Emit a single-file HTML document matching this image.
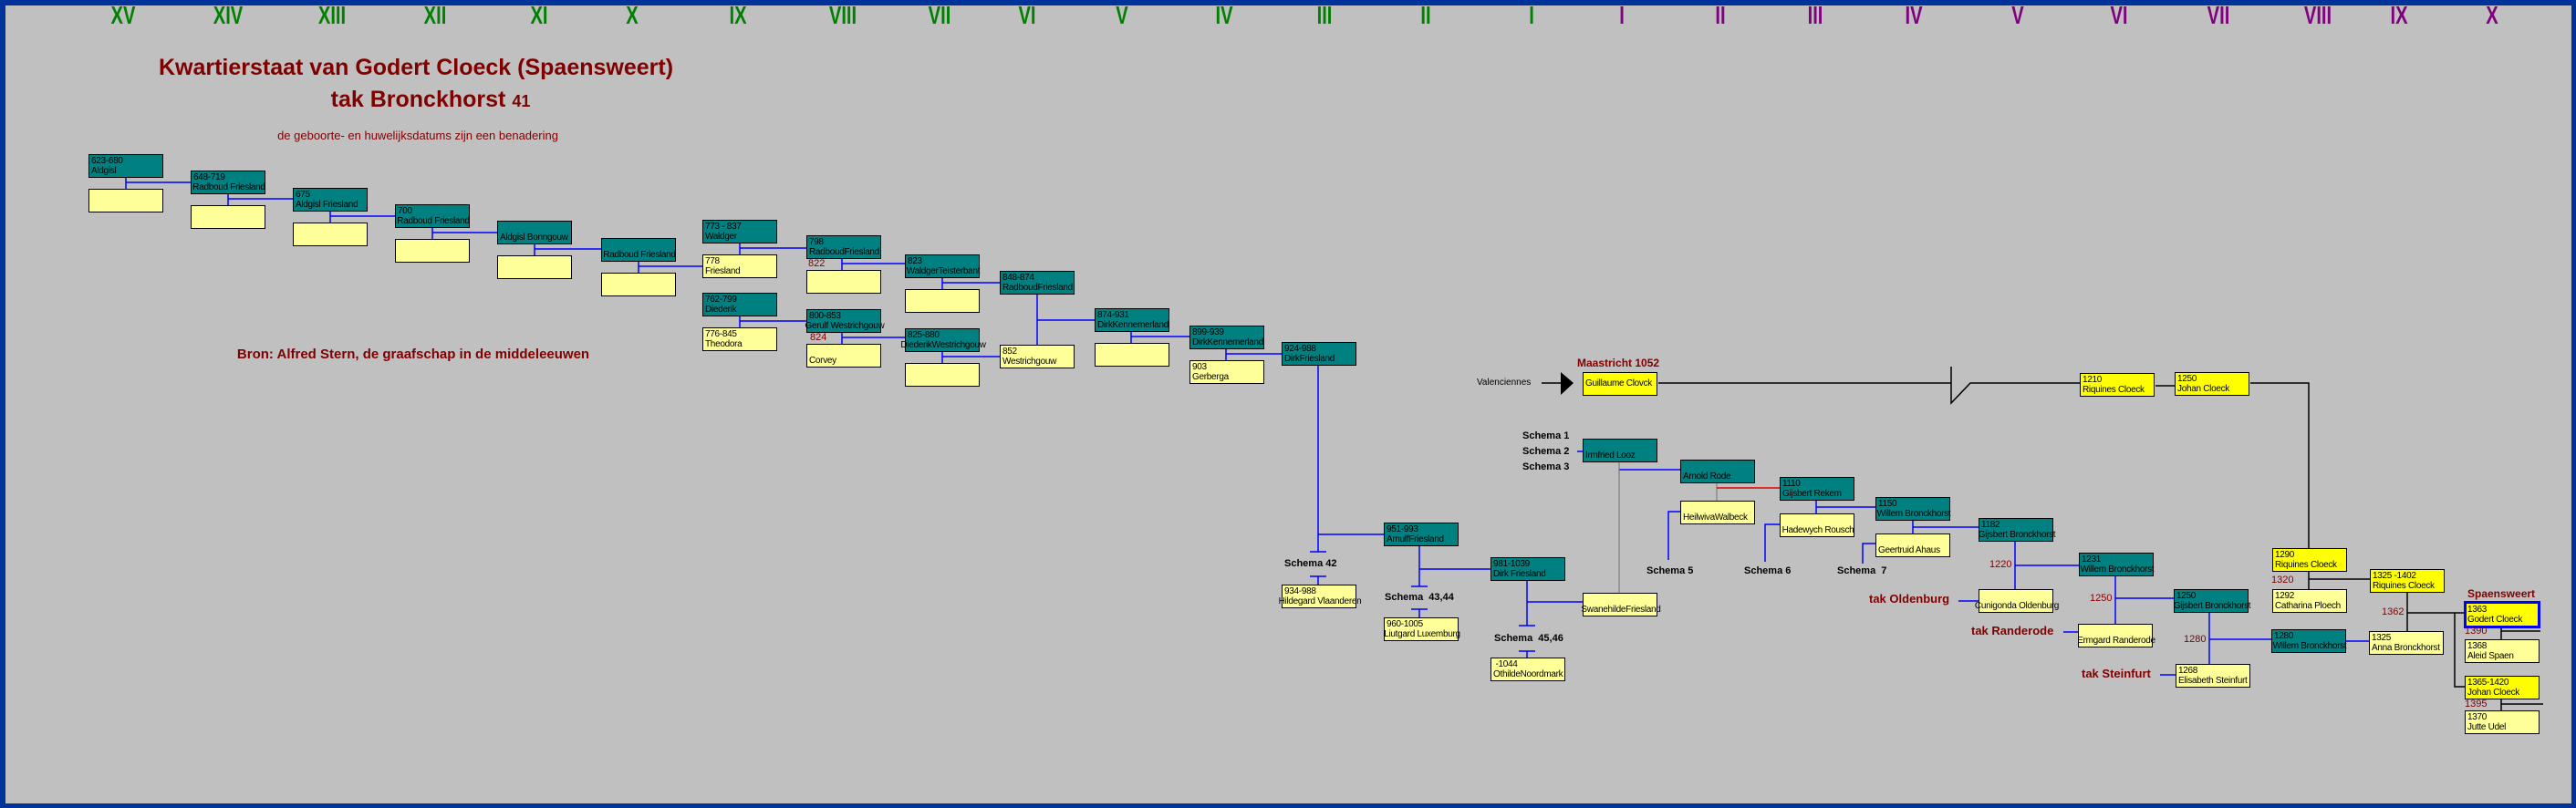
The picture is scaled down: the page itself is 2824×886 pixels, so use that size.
<!DOCTYPE html>
<html><head><meta charset="utf-8"><style>
html,body{margin:0;padding:0}
body{width:2824px;height:886px;position:relative;overflow:hidden;background:#003399;font-family:"Liberation Sans",sans-serif}
#bg{position:absolute;left:6px;top:6px;width:2813px;height:875px;background:#c0c0c0}
.r{position:absolute;top:3px;font-weight:bold;font-size:28px;line-height:28px;width:80px;margin-left:-40px;text-align:center;transform:scaleX(0.72)}
.g{color:#008000}.p{color:#800080}
.b{position:absolute;width:80px;height:23px;border:1px solid #000;font-size:10px;line-height:11px;color:#000;padding-top:1px;box-sizing:content-box}
.b p{margin:0;height:11px;white-space:nowrap;width:max-content;min-width:78px;position:relative;left:50%;transform:translateX(-50%);padding-left:2px;letter-spacing:-0.3px}
.t{background:#008080}.y{background:#ffff99}.Y{background:#ffff00}
.lab{position:absolute;white-space:nowrap}
.d{color:#800000;font-size:11px}
.s{font-weight:bold;font-size:11px;color:#000}
.rb{font-weight:bold;font-size:13px;color:#800000}
svg{position:absolute;left:0;top:0}
</style></head><body>
<div id="bg"></div>
<svg width="2824" height="886">
<g stroke="#0000ff" stroke-width="1.5" fill="none">
<path d="M138 194V207M138 200H209"/>
<path d="M250 212V225M250 218H321"/>
<path d="M362 231V244M362 237H433"/>
<path d="M474 249V262M474 255H545"/>
<path d="M586 267V280M586 273H659"/>
<path d="M700 286V299M700 292H770"/>
<path d="M811 266V279M811 272H884"/>
<path d="M811 346V359M811 352H884"/>
<path d="M923 283V296M923 289H992"/>
<path d="M923 364V377M923 370H992"/>
<path d="M1033 304V317M1033 310H1096"/>
<path d="M1033 385V398M1033 391H1096"/>
<path d="M1137 322V378M1137 351H1200"/>
<path d="M1240 363V376M1240 369H1304"/>
<path d="M1344 382V395M1344 388H1405"/>
<path d="M1445 400V605M1436 605H1454M1445 586H1517M1436 632H1454M1445 632V641"/>
<path d="M1556 598V643M1547 643H1565M1556 624H1634M1547 668H1565M1556 668V677"/>
<path d="M1674 636V686M1665 686H1683M1674 660H1735M1665 714H1683M1674 714V721"/>
<path d="M1775 515H1842M1729 495H1735"/>
<path d="M1829 614V561H1842"/>
<path d="M1991 548V563M1991 556H2056"/>
<path d="M1935 616V575H1951"/>
<path d="M2097 570V585M2097 578H2169"/>
<path d="M2042 618V596H2056"/>
<path d="M2209 593V646M2209 620H2279"/>
<path d="M2147 659H2169"/>
<path d="M2319 631V684M2319 656H2383"/>
<path d="M2262 693H2278"/>
<path d="M2422 671V728M2422 701H2490"/>
<path d="M2368 740H2385"/>
<path d="M2572 703H2597"/>
</g>
<g stroke="#707070" stroke-width="1" fill="none">
<path d="M1775 506V650M1882 529V549"/>
</g>
<path d="M1882 535H1951" stroke="#e00000" stroke-width="1.5"/>
<g stroke="#000" stroke-width="1.5" fill="none">
<path d="M1690 420H1711"/>
<path d="M1818 420H2139M2139 402V442L2160 420H2280"/>
<path d="M2363 423H2384"/>
<path d="M2467 420H2531V601M2531 626V646M2531 635H2598"/>
<path d="M2639 649V692M2639 672H2702M2691 672V753H2702"/>
<path d="M2742 687V701M2742 692H2785"/>
<path d="M2742 766V779M2742 772H2788"/>
</g>
<path d="M1711 408L1725 420L1711 433Z" fill="#000"/>
</svg>

<div class="r g" style="left:135px">XV</div>
<div class="r g" style="left:250px">XIV</div>
<div class="r g" style="left:364px">XIII</div>
<div class="r g" style="left:477px">XII</div>
<div class="r g" style="left:591px">XI</div>
<div class="r g" style="left:693px">X</div>
<div class="r g" style="left:809px">IX</div>
<div class="r g" style="left:924px">VIII</div>
<div class="r g" style="left:1030px">VII</div>
<div class="r g" style="left:1126px">VI</div>
<div class="r g" style="left:1230px">V</div>
<div class="r g" style="left:1342px">IV</div>
<div class="r g" style="left:1452px">III</div>
<div class="r g" style="left:1563px">II</div>
<div class="r g" style="left:1679px">I</div>
<div class="r p" style="left:1778px">I</div>
<div class="r p" style="left:1886px">II</div>
<div class="r p" style="left:1990px">III</div>
<div class="r p" style="left:2098px">IV</div>
<div class="r p" style="left:2212px">V</div>
<div class="r p" style="left:2323px">VI</div>
<div class="r p" style="left:2432px">VII</div>
<div class="r p" style="left:2541px">VIII</div>
<div class="r p" style="left:2630px">IX</div>
<div class="r p" style="left:2732px">X</div>

<div class="lab" style="left:156px;top:60px;width:600px;text-align:center;font-weight:bold;font-size:25px;color:#800000">Kwartierstaat van Godert Cloeck (Spaensweert)</div>
<div class="lab" style="left:322px;top:95px;width:300px;text-align:center;font-weight:bold;font-size:25px;color:#800000">tak Bronckhorst <span style="font-size:18px">41</span></div>
<div class="lab" style="left:258px;top:141px;width:400px;text-align:center;font-size:13px;color:#800000">de geboorte- en huwelijksdatums zijn een benadering</div>
<div class="lab" style="left:233px;top:380px;width:440px;text-align:center;font-weight:bold;font-size:15px;color:#800000">Bron: Alfred Stern, de graafschap in de middeleeuwen</div>

<div class="b t" style="left:97px;top:169px"><p>623-680</p><p>Aldgisl</p></div>
<div class="b t" style="left:209px;top:187px"><p>648-719</p><p>Radboud Friesland</p></div>
<div class="b t" style="left:321px;top:206px"><p>675</p><p>Aldgisl Friesland</p></div>
<div class="b t" style="left:433px;top:224px"><p>700</p><p>Radboud Friesland</p></div>
<div class="b t" style="left:545px;top:242px"><p></p><p>Aldgisl Bonngouw</p></div>
<div class="b t" style="left:659px;top:261px"><p></p><p>Radboud Friesland</p></div>
<div class="b t" style="left:770px;top:241px"><p>773 - 837</p><p>Waldger</p></div>
<div class="b t" style="left:770px;top:321px"><p>762-799</p><p>Diederik</p></div>
<div class="b t" style="left:884px;top:258px"><p>798</p><p>RadboudFriesland</p></div>
<div class="b t" style="left:884px;top:339px"><p>800-853</p><p>Gerulf Westrichgouw</p></div>
<div class="b t" style="left:992px;top:279px"><p>823</p><p>WaldgerTeisterbant</p></div>
<div class="b t" style="left:992px;top:360px"><p>825-880</p><p>DiederikWestrichgouw</p></div>
<div class="b t" style="left:1096px;top:297px"><p>848-874</p><p>RadboudFriesland</p></div>
<div class="b t" style="left:1200px;top:338px"><p>874-931</p><p>DirkKennemerland</p></div>
<div class="b t" style="left:1304px;top:357px"><p>899-939</p><p>DirkKennemerland</p></div>
<div class="b t" style="left:1405px;top:375px"><p>924-988</p><p>DirkFriesland</p></div>
<div class="b t" style="left:1517px;top:573px"><p>951-993</p><p>ArnulfFriesland</p></div>
<div class="b t" style="left:1634px;top:611px"><p>981-1039</p><p>Dirk Friesland</p></div>
<div class="b t" style="left:1735px;top:481px"><p></p><p>Irmfried Looz</p></div>
<div class="b t" style="left:1842px;top:504px"><p></p><p>Arnold Rode</p></div>
<div class="b t" style="left:1951px;top:523px"><p>1110</p><p>Gijsbert Rekem</p></div>
<div class="b t" style="left:2056px;top:545px"><p>1150</p><p>Willem Bronckhorst</p></div>
<div class="b t" style="left:2169px;top:568px"><p>1182</p><p>Gijsbert Bronckhorst</p></div>
<div class="b t" style="left:2279px;top:606px"><p>1231</p><p>Willem Bronckhorst</p></div>
<div class="b t" style="left:2383px;top:646px"><p>1250</p><p>Gijsbert Bronckhorst</p></div>
<div class="b t" style="left:2490px;top:690px"><p>1280</p><p>Willem Bronckhorst</p></div>

<div class="b y" style="left:97px;top:207px"></div>
<div class="b y" style="left:209px;top:225px"></div>
<div class="b y" style="left:321px;top:244px"></div>
<div class="b y" style="left:433px;top:262px"></div>
<div class="b y" style="left:545px;top:280px"></div>
<div class="b y" style="left:659px;top:299px"></div>
<div class="b y" style="left:884px;top:296px"></div>
<div class="b y" style="left:992px;top:317px"></div>
<div class="b y" style="left:992px;top:398px"></div>
<div class="b y" style="left:1200px;top:376px"></div>
<div class="b y" style="left:770px;top:279px"><p>778</p><p>Friesland</p></div>
<div class="b y" style="left:770px;top:359px"><p>776-845</p><p>Theodora</p></div>
<div class="b y" style="left:884px;top:377px"><p></p><p>Corvey</p></div>
<div class="b y" style="left:1096px;top:378px"><p>852</p><p>Westrichgouw</p></div>
<div class="b y" style="left:1304px;top:395px"><p>903</p><p>Gerberga</p></div>
<div class="b y" style="left:1405px;top:641px"><p>934-988</p><p>Hildegard Vlaanderen</p></div>
<div class="b y" style="left:1517px;top:677px"><p>960-1005</p><p>Liutgard Luxemburg</p></div>
<div class="b y" style="left:1634px;top:721px"><p>&nbsp;-1044</p><p>OthildeNoordmark</p></div>
<div class="b y" style="left:1735px;top:650px"><p></p><p>SwanehildeFriesland</p></div>
<div class="b y" style="left:1842px;top:549px"><p></p><p>HeilwivaWalbeck</p></div>
<div class="b y" style="left:1951px;top:563px"><p></p><p>Hadewych Rousch</p></div>
<div class="b y" style="left:2056px;top:585px"><p></p><p>Geertruid Ahaus</p></div>
<div class="b y" style="left:2169px;top:646px"><p></p><p>Cunigonda Oldenburg</p></div>
<div class="b y" style="left:2278px;top:684px"><p></p><p>Ermgard Randerode</p></div>
<div class="b y" style="left:2385px;top:728px"><p>1268</p><p>Elisabeth Steinfurt</p></div>
<div class="b y" style="left:2491px;top:646px"><p>1292</p><p>Catharina Ploech</p></div>
<div class="b y" style="left:2597px;top:692px"><p>1325</p><p>Anna Bronckhorst</p></div>
<div class="b y" style="left:2702px;top:701px"><p>1368</p><p>Aleid Spaen</p></div>
<div class="b y" style="left:2702px;top:779px"><p>1370</p><p>Jutte Udel</p></div>

<div class="b Y" style="left:1735px;top:408px"><p style="margin-top:5px">Guillaume Clovck</p></div>
<div class="b Y" style="left:2280px;top:409px"><p>1210</p><p>Riquines Cloeck</p></div>
<div class="b Y" style="left:2384px;top:408px"><p>1250</p><p>Johan Cloeck</p></div>
<div class="b Y" style="left:2491px;top:601px"><p>1290</p><p>Riquines Cloeck</p></div>
<div class="b Y" style="left:2598px;top:624px"><p>1325 -1402</p><p>Riquines Cloeck</p></div>
<div class="b Y" style="left:2701px;top:659px;border:3px solid #0000ff;width:78px"><p>1363</p><p>Godert Cloeck</p></div>
<div class="b Y" style="left:2702px;top:741px"><p>1365-1420</p><p>Johan Cloeck</p></div>

<div class="lab d" style="left:886px;top:283px">822</div>
<div class="lab d" style="left:888px;top:364px">824</div>
<div class="lab d" style="left:2181px;top:613px">1220</div>
<div class="lab d" style="left:2291px;top:650px">1250</div>
<div class="lab d" style="left:2394px;top:695px">1280</div>
<div class="lab d" style="left:2490px;top:630px">1320</div>
<div class="lab d" style="left:2611px;top:665px">1362</div>
<div class="lab d" style="left:2702px;top:686px">1390</div>
<div class="lab d" style="left:2702px;top:766px">1395</div>

<div class="lab s" style="left:1408px;top:612px">Schema 42</div>
<div class="lab s" style="left:1518px;top:649px">Schema &nbsp;43,44</div>
<div class="lab s" style="left:1638px;top:694px">Schema &nbsp;45,46</div>
<div class="lab s" style="left:1669px;top:472px">Schema 1</div>
<div class="lab s" style="left:1669px;top:489px">Schema 2</div>
<div class="lab s" style="left:1669px;top:506px">Schema 3</div>
<div class="lab s" style="left:1805px;top:620px">Schema 5</div>
<div class="lab s" style="left:1912px;top:620px">Schema 6</div>
<div class="lab s" style="left:2014px;top:620px">Schema &nbsp;7</div>

<div class="lab rb" style="left:1729px;top:391px;font-size:12px">Maastricht 1052</div>
<div class="lab rb" style="left:2049px;top:649px">tak Oldenburg</div>
<div class="lab rb" style="left:2161px;top:684px">tak Randerode</div>
<div class="lab rb" style="left:2282px;top:731px">tak Steinfurt</div>
<div class="lab rb" style="left:2705px;top:644px;font-size:12px">Spaensweert</div>
<div class="lab" style="left:1619px;top:414px;font-size:10px;color:#000">Valenciennes</div>
</body></html>
